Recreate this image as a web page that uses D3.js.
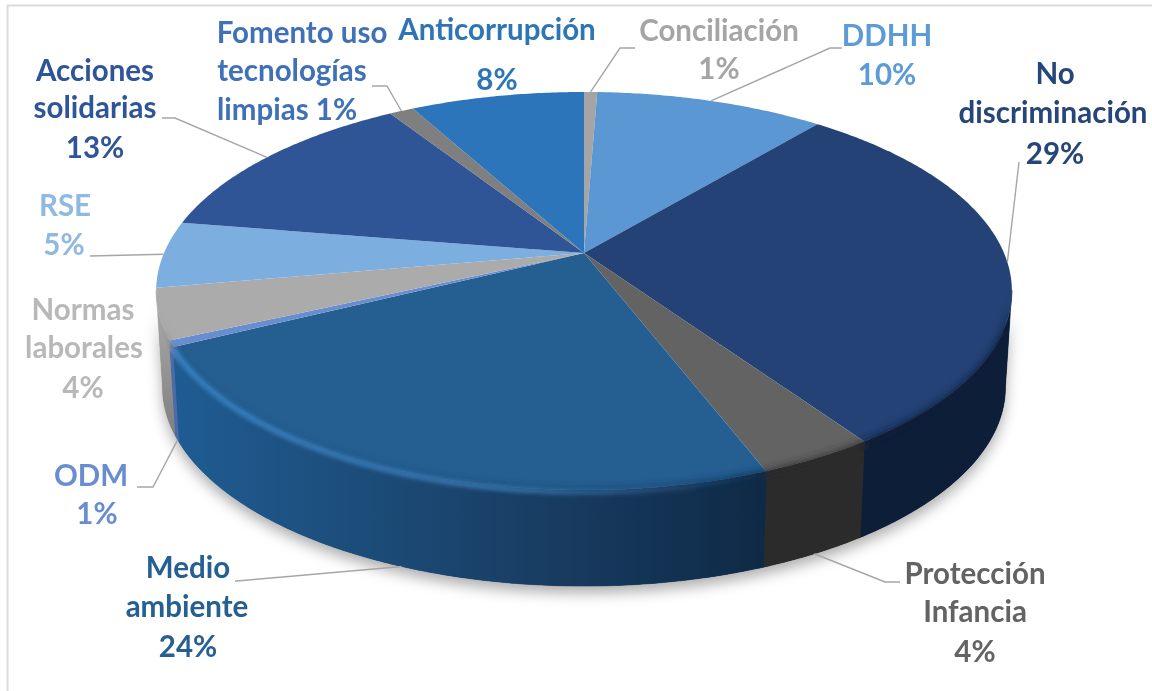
<!DOCTYPE html>
<html>
<head>
<meta charset="utf-8">
<script src="https://cdnjs.cloudflare.com/ajax/libs/d3/7.8.5/d3.min.js"></script>
<style>
  html, body { margin: 0; background: #fff; }
  text { font-family: Lato, "Open Sans", sans-serif; font-weight: 700; font-size: 29.5px; text-anchor: middle; }
</style>
</head>
<body>
<script>
// clockwise from 12 o'clock
const categories = ["Conciliación", "DDHH", "No discriminación", "Protección Infancia", "Medio ambiente", "ODM", "Normas laborales", "RSE", "Acciones solidarias", "Fomento uso tecnologías limpias", "Anticorrupción"];
const shares = [0.6, 10.4, 29.5, 3.7, 23.4, 0.5, 4.1, 5.4, 13.4, 1.1, 7.9];

const topColors = ["#a5a5a5", "#5a97d3", "#244275", "#636363", "#255e91", "#698ed0", "#ababab", "#7cafdf", "#2f5597", "#7f7f7f", "#2c75ba"];
const sideColors = ["#777", "#2c5f90", "#0d1e39", "#2b2b2b", "url(#medioSide)", "#4a6aa8", "url(#normasSide)", "#4f84b5", "#1c3566", "#555", "#1a4f85"];
const labelColors = ["#a5a5a5", "#5b9bd5", "#264478", "#636363", "#255e91", "#698ed0", "#b8b8b8", "#8fb9e0", "#2f5597", "#3f70b8", "#2e75b6"];

// label lines [text, x, baseline]
const labelLines = [
  [["Conciliación", 719, 41], ["1%", 719, 79]],
  [["DDHH", 887, 46], ["10%", 887, 85]],
  [["No", 1055, 84], ["discriminación", 1053, 123], ["29%", 1055, 164]],
  [["Protección", 975, 584], ["Infancia", 975, 622], ["4%", 975, 662]],
  [["Medio", 188, 578], ["ambiente", 187, 617], ["24%", 188, 657]],
  [["ODM", 91, 486], ["1%", 97, 524]],
  [["Normas", 83, 320], ["laborales", 84, 358], ["4%", 83, 398]],
  [["RSE", 65, 216], ["5%", 64, 255]],
  [["Acciones", 95, 81], ["solidarias", 95, 118], ["13%", 95, 158]],
  [["Fomento uso", 302, 43], ["tecnologías", 292, 81], ["limpias 1%", 287, 120]],
  [["Anticorrupción", 497, 40], ["8%", 497, 90]]
];
// leader lines run from the slice rim through these points, null = no leader
const leaderPoints = [
  [[620, 48], [635, 48]],
  [[830, 48], [842, 48]],
  [[1019, 162]],
  [[885, 582], [900, 582]],
  [[237, 581], [235, 581]],
  [[153, 487], [137, 487]],
  null,
  [[90, 256]],
  [[175, 118], [162, 118]],
  [[387, 86], [372, 86]],
  null
];

const width = 1152, height = 691;
const cx = 584, cy = 253;
const a = 420, b = 191.8, k = 0.191;   // perspective of the tilted disc
const depth = 96, shrink = 0.985;

const svg = d3.select("body").append("svg")
  .attr("width", width)
  .attr("height", height)
  .style("display", "block");

const defs = svg.append("defs");
[["blurSoft", 4], ["blurShadow", 7], ["blurLine", 2.2], ["blurText", 0.45]].forEach(([id, s]) => {
  defs.append("filter").attr("id", id)
    .attr("x", "-10%").attr("y", "-10%").attr("width", "120%").attr("height", "120%")
    .append("feGaussianBlur").attr("stdDeviation", s);
});

const medioGrad = defs.append("linearGradient").attr("id", "medioSide")
  .attr("gradientUnits", "userSpaceOnUse")
  .attr("x1", 175).attr("x2", 770).attr("y1", 0).attr("y2", 0);
[[0, "#1f5c93"], [0.3, "#1c4d7a"], [0.65, "#183b60"], [1, "#0e2945"]].forEach(([o, c]) => {
  medioGrad.append("stop").attr("offset", o).attr("stop-color", c);
});
const normasGrad = defs.append("linearGradient").attr("id", "normasSide")
  .attr("gradientUnits", "userSpaceOnUse")
  .attr("x1", 0).attr("x2", 0).attr("y1", 300).attr("y2", 440);
[[0, "#a8a8a8"], [1, "#7a7a7a"]].forEach(([o, c]) => {
  normasGrad.append("stop").attr("offset", o).attr("stop-color", c);
});
const glowGrad = defs.append("linearGradient").attr("id", "medioGlow")
  .attr("gradientUnits", "userSpaceOnUse")
  .attr("x1", 175).attr("x2", 770).attr("y1", 0).attr("y2", 0);
[[0, "#3f88c8", 0.9], [0.55, "#3f88c8", 0.75], [1, "#3f88c8", 0]].forEach(([o, c, op]) => {
  glowGrad.append("stop").attr("offset", o).attr("stop-color", c).attr("stop-opacity", op);
});

// angle clockwise from 12 o'clock -> point on the top rim
const topPoint = (ang, r = 1) => {
  const x = r * Math.sin(ang), y = -r * Math.cos(ang);
  const den = 1 - k * y;
  return [cx + a * x / den, cy + b * y / den];
};
const bottomPoint = (ang) => {
  const p = topPoint(ang);
  return [cx + (p[0] - cx) * shrink, p[1] + depth];
};
const arcAngles = (a0, a1) => {
  const n = Math.max(2, Math.ceil((a1 - a0) / 0.01));
  return d3.range(n + 1).map(i => a0 + (a1 - a0) * i / n);
};

const pie = d3.pie().sort(null).value(d => d);
const slices = pie(shares);
const line = d3.line();
const closed = pts => line(pts) + "Z";

// the wall shows from the widest point of the rim round the front
const frontFrom = Math.PI * 0.56, frontTo = Math.PI * 1.44;
const topPath = d => closed([[cx, cy]].concat(arcAngles(d.startAngle, d.endAngle).map(t => topPoint(t))));
const isFront = d => d.endAngle > frontFrom && d.startAngle < frontTo;
const sidePath = d => {
  const ts = arcAngles(Math.max(d.startAngle, frontFrom), Math.min(d.endAngle, frontTo));
  return closed(ts.map(t => topPoint(t)).concat(ts.slice().reverse().map(bottomPoint)));
};
const frontSlices = slices.filter(isFront);
const wholeDisc = closed(arcAngles(0, 2 * Math.PI).map(t => topPoint(t)));

// frame of the picture
svg.append("path").attr("d", line([[7.5, height], [7.5, 5.5], [width, 5.5]]))
  .attr("fill", "none").attr("stroke", "#dcdcdc").attr("stroke-width", 2);

// soft shadow under the pie
svg.append("g").attr("filter", "url(#blurShadow)")
  .attr("transform", "translate(0,7)")
  .selectAll("path").data(frontSlices).join("path")
  .attr("d", sidePath).attr("fill", "#000").attr("opacity", 0.32);

// crisp side wall and top face
svg.append("g").selectAll("path").data(frontSlices).join("path")
  .attr("d", sidePath).attr("fill", d => sideColors[d.index])
  .attr("stroke", d => sideColors[d.index]).attr("stroke-width", 0.5);
svg.append("g").selectAll("path").data(slices).join("path")
  .attr("d", topPath).attr("fill", d => topColors[d.index]);

// bevel: blurred side wall bleeding over the rim, kept inside the silhouette
const clip = defs.append("clipPath").attr("id", "silhouette");
clip.append("path").attr("d", wholeDisc);
clip.selectAll("path.side").data(frontSlices).join("path").attr("class", "side").attr("d", sidePath);

const bevel = svg.append("g").attr("clip-path", "url(#silhouette)");
bevel.append("g").attr("filter", "url(#blurSoft)")
  .selectAll("path").data(frontSlices).join("path")
  .attr("d", sidePath).attr("fill", d => sideColors[d.index]);
// wall again lower down so the slice borders stay sharp below the bevel
bevel.append("g").attr("transform", "translate(0,9)")
  .selectAll("path").data(frontSlices).join("path")
  .attr("d", sidePath).attr("fill", d => sideColors[d.index]);
const medio = slices[4];
bevel.append("path")
  .attr("d", line(arcAngles(medio.startAngle + 0.02, medio.endAngle).reverse().map(t => {
    const p = topPoint(t);
    return [p[0], p[1] + 2];
  })))
  .attr("fill", "none").attr("stroke", "url(#medioGlow)").attr("stroke-width", 5)
  .attr("filter", "url(#blurLine)");

// leaders
const leaderRim = d => {
  const mid = (d.startAngle + d.endAngle) / 2;
  return mid > frontFrom && mid < frontTo ? bottomPoint(mid) : topPoint(mid);
};
svg.append("g").selectAll("path")
  .data(slices.filter(d => leaderPoints[d.index]))
  .join("path")
  .attr("d", d => line([leaderRim(d)].concat(leaderPoints[d.index])))
  .attr("fill", "none").attr("stroke", "#a6a6a6").attr("stroke-width", 1.4);

// labels
const labels = svg.append("g").attr("filter", "url(#blurText)")
  .selectAll("g").data(categories).join("g")
  .attr("fill", (d, i) => labelColors[i]);
labels.selectAll("text").data((d, i) => labelLines[i]).join("text")
  .attr("x", d => d[1]).attr("y", d => d[2]).text(d => d[0]);
</script>
</body>
</html>
